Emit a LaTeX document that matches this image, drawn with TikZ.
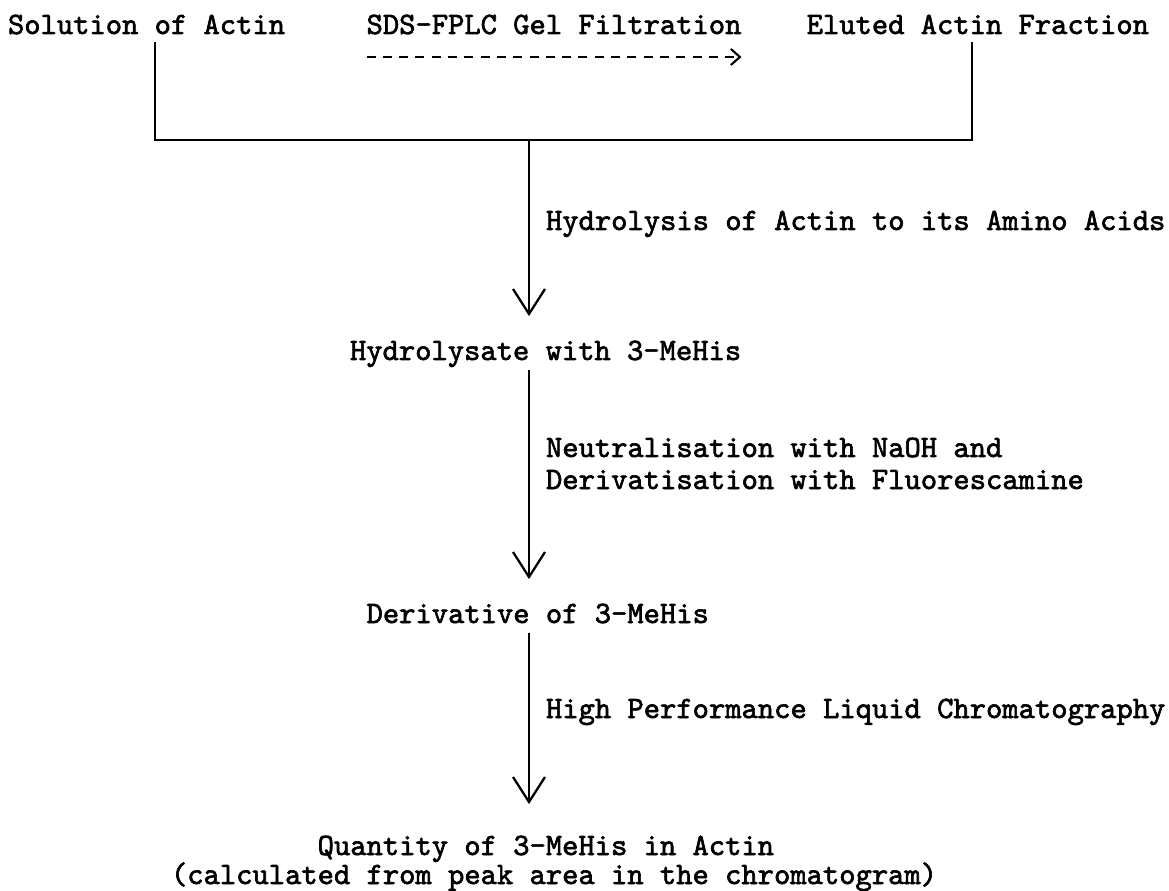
\documentclass[tikz,border=0pt]{standalone}
\usepackage{fontspec}
\newfontfamily\typewriter{lmmono10-regular.otf}[FakeBold=2]
\usetikzlibrary{arrows.meta}
\usetikzlibrary{positioning}

\begin{document}
\begin{tikzpicture}
  [
    x=0.02cm,
    y=-0.02cm,
    txt/.style={
      inner sep=0pt,
      outer sep=0pt,
      anchor=base west,
      text height=0.62em,
      text depth=0pt,
      font=\typewriter\fontsize{17.67}{18.55}\selectfont
    },
    wire/.style={
      line width=1.6pt
    },
    flow/.style={
      wire,
      -{Straight Barb[length=0.5cm,width=0.64cm,line width=1.3pt]},
      shorten >=0.66cm
    },
    typed/.style={
      line width=1.2pt,
      dash pattern=on 0.18cm off 0.146cm,
      -{Straight Barb[length=0.18cm,width=0.32cm,line width=1.2pt]}
    }
  ]
    \useasboundingbox (0,0) rectangle (1169,891);
    % top row
    \node [txt] (sol) at (8,34) {Solution of Actin};
    \node [txt] (filt) at (366.6,34) {SDS-FPLC Gel Filtration};
    \node [txt] (elu) at (806.7,34) {Eluted Actin Fraction};
    % steps
    \node [txt] (hydr) at (546,230) {Hydrolysis of Actin to its Amino Acids};
    \node [txt] (hyd) at (350,360) {Hydrolysate with 3-MeHis};
    \node [txt] (neut) at (546,457) {Neutralisation with NaOH and};
    \node [txt] (fluo) at (546,489) {Derivatisation with Fluorescamine};
    \node [txt] (deriv) at (366.6,623) {Derivative of 3-MeHis};
    \node [txt] (hplc) at (546,718) {High Performance Liquid Chromatography};
    \node [txt] (quant) at (317.7,855) {Quantity of 3-MeHis in Actin};
    \node [txt] (calc) at (171,884) {(calculated from peak area in the chromatogram)};
    % junction
    \coordinate (jl) at (155,140);
    \coordinate (jm) at (529,140);
    \coordinate (jr) at (972,140);
    \draw [wire,shorten <=0.16cm,shorten >=0.16cm] (sol.south -| jl) -- (jl) -- (jr) -- (elu.south -| jr);
    \draw [typed] ([yshift=-0.46cm]filt.south west) -- ([yshift=-0.46cm]filt.south east);
    % arrows
    \draw [flow] (jm) -- (hyd.north -| jm);
    \draw [flow,shorten <=0.2cm] (hyd.south -| jm) -- (deriv.north -| jm);
    \draw [flow,shorten <=0.2cm,shorten >=0.8cm] (deriv.south -| jm) -- (quant.north -| jm);
\end{tikzpicture}
\end{document}
